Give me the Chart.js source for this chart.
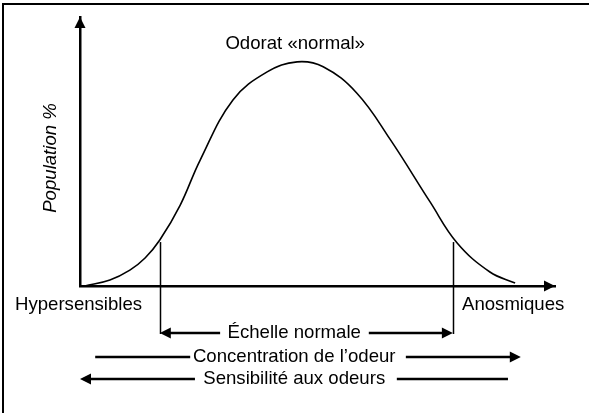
<!DOCTYPE html>
<html>
<head>
<meta charset="utf-8">
<script src="https://cdn.jsdelivr.net/npm/chart.js@4"></script>
<style>
  html, body { margin: 0; padding: 0; background: #fff; }
  #wrap { width: 589px; height: 413px; }
</style>
</head>
<body>
<div id="wrap"><canvas id="odorChart" width="589" height="413"></canvas></div>
<script>
// Sensitivity scale (0 = hypersensitive, 100 = arrow tip) and population share (peak = 100)
const scalePos   = [1, 6.3, 10.5, 13.7, 16.8, 21.1, 25.3, 32.2, 39.4, 45.7, 51.2, 58.3, 65.3, 73.7, 79.4, 86.3, 91.6];
const population = [0, 2.7, 7.1, 12.5, 20.5, 36.1, 56.2, 83, 95.5, 100, 97.8, 86, 65.4, 37.5, 19.2, 6.25, 1.3];

// Limits of the "normal" range, on the same scale
const normalRange = [16.8, 78.5];
const markerTop = 19.6;

// Labels
const peakLabel = 'Odorat «normal»';
const axisTitle = 'Population %';
const endLabels = ['Hypersensibles', 'Anosmiques'];
const rowLabels = ['Échelle normale', 'Concentration de l’odeur', 'Sensibilité aux odeurs'];
// each row: [text centre, left segment from, left segment to, right segment from, right segment to], on the x scale
const rowSegments = [
  [45.1, 16.8, 29.5, 60.8, 78.5],
  [45.1, 3.2, 23.2, 68.6, 92.8],
  [45.1, 0, 24.2, 66.7, 90.1]
];
// which ends carry an arrowhead: [left, right]
const rowHeads = [[true, true], [false, true], [true, false]];

const FONT = '18.6px "Liberation Sans", Arial, sans-serif';

function arrowHead(ctx, x, y, dir) {
  // dir: 'left' | 'right' | 'up'
  ctx.beginPath();
  if (dir === 'up') {
    ctx.moveTo(x, y);
    ctx.lineTo(x - 5.5, y + 11);
    ctx.lineTo(x + 5.5, y + 11);
  } else {
    const s = dir === 'right' ? -1 : 1;
    ctx.moveTo(x, y);
    ctx.lineTo(x + s * 11, y - 5.5);
    ctx.lineTo(x + s * 11, y + 5.5);
  }
  ctx.closePath();
  ctx.fill();
}

const annotations = {
  id: 'annotations',
  afterDraw(chart) {
    const ctx = chart.ctx;
    const xs = chart.scales.x, ys = chart.scales.y;
    const area = chart.chartArea;
    ctx.save();
    ctx.fillStyle = '#000';
    ctx.strokeStyle = '#000';

    // frame (top and left edges)
    ctx.lineWidth = 2;
    ctx.beginPath();
    ctx.moveTo(3, 413);
    ctx.lineTo(3, 4);
    ctx.lineTo(589, 4);
    ctx.stroke();

    // arrowheads on axes
    arrowHead(ctx, area.left, area.top, 'up');
    arrowHead(ctx, area.right, area.bottom, 'right');

    // row y positions below the axis
    const rowY = [area.bottom + 47, area.bottom + 71, area.bottom + 93];

    // normal range markers
    ctx.lineWidth = 1.5;
    normalRange.forEach(v => {
      const px = Math.round(xs.getPixelForValue(v)) + 0.5;
      ctx.beginPath();
      ctx.moveTo(px, ys.getPixelForValue(markerTop));
      ctx.lineTo(px, rowY[0] + 1);
      ctx.stroke();
    });

    ctx.font = FONT;
    ctx.textBaseline = 'middle';

    // peak label
    ctx.textAlign = 'center';
    ctx.fillText(peakLabel, xs.getPixelForValue(45.3), 44);

    // end labels
    ctx.textAlign = 'left';
    ctx.fillText(endLabels[0], 15, area.bottom + 19);
    ctx.fillText(endLabels[1], 462, area.bottom + 19);

    // rows
    ctx.lineWidth = 2.5;
    rowSegments.forEach((seg, i) => {
      const y = rowY[i];
      ctx.textAlign = 'center';
      ctx.fillText(rowLabels[i], xs.getPixelForValue(seg[0]), y);
      const l0 = xs.getPixelForValue(seg[1]), l1 = xs.getPixelForValue(seg[2]);
      const r0 = xs.getPixelForValue(seg[3]), r1 = xs.getPixelForValue(seg[4]);
      ctx.beginPath();
      ctx.moveTo(rowHeads[i][0] ? l0 + 8 : l0, y);
      ctx.lineTo(l1, y);
      ctx.moveTo(r0, y);
      ctx.lineTo(rowHeads[i][1] ? r1 - 8 : r1, y);
      ctx.stroke();
      if (rowHeads[i][0]) arrowHead(ctx, l0, y, 'left');
      if (rowHeads[i][1]) arrowHead(ctx, r1, y, 'right');
    });

    // y axis title
    ctx.save();
    ctx.translate(51, 158);
    ctx.rotate(-Math.PI / 2);
    ctx.textAlign = 'center';
    ctx.font = 'italic ' + FONT;
    ctx.fillText(axisTitle, 0, 0);
    ctx.restore();

    ctx.restore();
  }
};

new Chart(document.getElementById('odorChart').getContext('2d'), {
  type: 'line',
  data: {
    datasets: [{
      data: scalePos.map((x, i) => ({ x: x, y: population[i] })),
      borderColor: '#000',
      borderWidth: 1.6,
      pointRadius: 0,
      fill: false,
      tension: 0.4
    }]
  },
  options: {
    responsive: false,
    animation: false,
    events: [],
    layout: {
      padding: { left: 80, top: 17, right: 34, bottom: 127 }
    },
    plugins: {
      legend: { display: false },
      tooltip: { enabled: false }
    },
    scales: {
      x: {
        type: 'linear',
        min: 0,
        max: 100,
        grid: { display: false, drawTicks: false },
        ticks: { display: false },
        border: { display: true, color: '#000', width: 2.5 }
      },
      y: {
        min: 0,
        max: 120,
        grid: { display: false, drawTicks: false },
        ticks: { display: false },
        border: { display: true, color: '#000', width: 2.5 }
      }
    }
  },
  plugins: [annotations]
});
</script>
</body>
</html>
